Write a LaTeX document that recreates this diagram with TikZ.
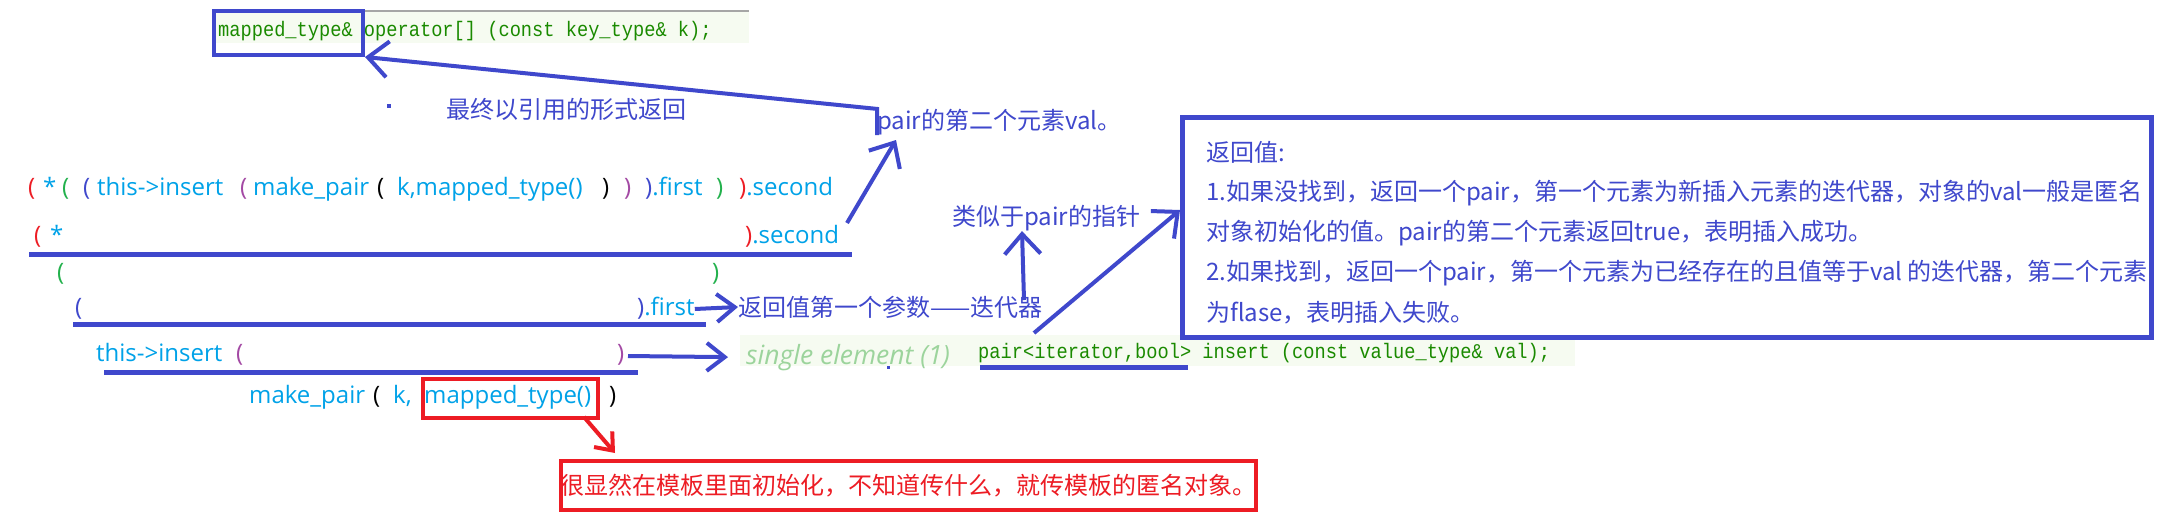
\documentclass[tikz,border=0pt]{standalone}
\usepackage{fontspec}
\usetikzlibrary{arrows.meta}
\newfontfamily\cjk{Noto Sans CJK SC}
\newfontfamily\lat{Open Sans}
\newfontfamily\codef[FakeStretch=0.89]{Liberation Mono}
\definecolor{ind}{HTML}{3F48CC}
\definecolor{cy}{HTML}{00A2E8}
\definecolor{rd}{HTML}{ED1C24}
\definecolor{gr}{HTML}{22B14C}
\definecolor{pu}{HTML}{A349A4}
\definecolor{codegreen}{HTML}{1A8A00}
\definecolor{pale}{HTML}{F6FBF1}
\definecolor{paleg}{HTML}{9CD49C}
\tikzset{
  cjkt/.style={font=\cjk\fontsize{24}{28}\selectfont, inner sep=0pt, anchor=west, text=ind},
  rowt/.style={font=\lat\fontsize{24}{28}\selectfont, inner sep=0pt, anchor=base west, text=cy},
  codet/.style={font=\codef\fontsize{21}{24}\selectfont, inner sep=0pt, anchor=base west, text=codegreen},
  bl/.style={draw=ind, line width=4pt},
  ul/.style={draw=ind, line width=5pt},
  rl/.style={draw=rd, line width=4pt},
  barb/.style={-{Straight Barb[length=20pt,width=36pt]}},
  sbarb/.style={-{Straight Barb[length=18pt,width=28pt]}},
  rbarb/.style={-{Straight Barb[length=15pt,width=24pt]}},
}
\begin{document}
\begin{tikzpicture}[x=1pt,y=-1pt]
\path[use as bounding box, fill=white] (0,0) rectangle (2184,520);

% top code line
\fill[pale] (212,11) rectangle (749,43);
\draw[gray!70, line width=1.2pt] (212,11) -- (749,11);
\node[codet] (topcode) at (218,36) {mapped\_type\& operator[] (const key\_type\& k);};
\node[draw=ind, line width=4pt, inner sep=0pt, minimum width=149pt, minimum height=44pt, anchor=north west] (mt) at (212,9) {};

% stray marks
\fill[ind] (387,104) rectangle (391,108);
\fill[ind] (887,361) rectangle (890,369);

% annotations
\node[cjkt] (ret) at (446,109) {最终以引用的形式返回};
\node[cjkt] (val) at (877,122) {pair的第二个元素val。};
\node[cjkt] (ptr) at (952,218) {类似于pair的指针};
\node[cjkt] (itr) at (738,307) {返回值第一个参数——迭代器};

% row 1
\node[rowt, text=rd] (r1a) at (28,195) {(};
\node[rowt] (r1b) at (43,195) {*};
\node[rowt, text=gr] (r1c) at (62,195) {(};
\node[rowt, text=ind] (r1d) at (83,195) {(};
\node[rowt] (r1e) at (97,195) {this->insert};
\node[rowt, text=pu] (r1f) at (240,195) {(};
\node[rowt] (r1g) at (253,195) {make\_pair};
\node[rowt, text=black] (r1h) at (377,195) {(};
\node[rowt] (r1i) at (397,195) {k,mapped\_type()};
\node[rowt, text=black] (r1j) at (602,195) {)};
\node[rowt, text=pu] (r1k) at (624,195) {)};
\node[rowt] (r1l) at (645,195) {\textcolor{ind}{)}.first};
\node[rowt, text=gr] (r1m) at (716,195) {)};
\node[rowt] (r1n) at (739,195) {\textcolor{rd}{)}.second};

% row 2
\node[rowt, text=rd] (r2a) at (34,243) {(};
\node[rowt] (r2b) at (50,243) {*};
\node[rowt] (r2c) at (745,243) {\textcolor{rd}{)}.second};
\draw[ul] (29,254) -- (852,254);

% row 3
\node[rowt, text=gr] (r3a) at (57,280) {(};
\node[rowt, text=gr] (r3b) at (712,280) {)};

% row 4
\node[rowt, text=ind] (r4a) at (75,315) {(};
\node[rowt] (r4b) at (637,315) {\textcolor{ind}{)}.first};
\draw[ul] (73,324) -- (706,324);

% row 5
\node[rowt] (r5a) at (96,361) {this->insert};
\node[rowt, text=pu] (r5b) at (236,361) {(};
\node[rowt, text=pu] (r5c) at (617,361) {)};
\draw[ul] (104,372) -- (638,372);

% row 6
\node[rowt] (r6a) at (249,403) {make\_pair};
\node[rowt, text=black] (r6b) at (373,403) {(};
\node[rowt] (r6c) at (393,403) {k,};
\node[rowt] (r6d) at (424,403) {mapped\_type()};
\node[rowt, text=black] (r6e) at (609,403) {)};
\node[draw=rd, line width=4pt, inner sep=0pt, minimum width=175pt, minimum height=39pt, anchor=north west] (rbox) at (421,377) {};

% single element + bottom code
\fill[pale] (740,335) rectangle (1575,366);
\node[font=\lat\itshape\fontsize{26.5}{30}\selectfont, text=paleg, inner sep=0pt, anchor=base west] (single) at (746,364) {single element (1)};
\node[codet] (inscode) at (978,358) {pair<iterator,bool> insert (const value\_type\& val);};
\draw[ul] (980,367) -- (1188,367);

% red note
\node[draw=rd, line width=4pt, inner sep=0pt, minimum width=695pt, minimum height=49pt, anchor=north west] (note) at (559,459) {};
\node[font=\cjk\fontsize{24}{28}\selectfont, text=rd, inner sep=0pt] (notet) at (note.center) {很显然在模板里面初始化，不知道传什么，就传模板的匿名对象。};

% return value box
\node[draw=ind, line width=4.5pt, inner sep=0pt, minimum width=969pt, minimum height=220pt, anchor=north west] (rbox2) at (1180,115) {};
\node[cjkt] (b0) at (1206,152) {返回值:};
\node[cjkt] (b1) at (1206,193) {1.如果没找到，返回一个pair，第一个元素为新插入元素的迭代器，对象的val一般是匿名};
\node[cjkt] (b2) at (1206,233) {对象初始化的值。pair的第二个元素返回true，表明插入成功。};
\node[cjkt] (b3) at (1206,273) {2.如果找到，返回一个pair，第一个元素为已经存在的且值等于val 的迭代器，第二个元素};
\node[cjkt] (b4) at (1206,313) {为flase，表明插入失败。};

% connectors
\draw[bl, barb] (val.south west) -- (val.north west) -- (mt.south east);
\coordinate (a2s) at (847,223);
\coordinate (a2e) at (896,140);
\draw[bl, barb] (a2s) -- (a2e);
\draw[bl, sbarb] (r4b.base east) ++(0,-6) -- (itr.west);
\coordinate (a4s) at (628,356);
\draw[bl, sbarb] (a4s) -- ([xshift=-18pt]single.west);
\coordinate (a5s) at (1024,300);
\draw[bl, barb] (a5s) -- (ptr.south -| 1022,0);
\coordinate (a6s) at (1034,333);
\draw[bl, barb] (a6s) -- (rbox2.west |- 0,210);
\coordinate (a7s) at (584,417);
\coordinate (a7e) at (615,453);
\draw[rl, rbarb] (a7s) -- (a7e);
\end{tikzpicture}
\end{document}
